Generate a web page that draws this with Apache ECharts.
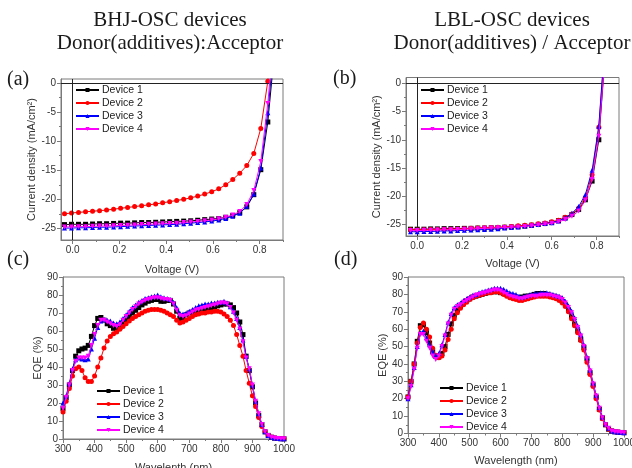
<!DOCTYPE html>
<html><head><meta charset="utf-8">
<script src="https://cdn.jsdelivr.net/npm/echarts@6/dist/echarts.min.js"></script>
<style>html,body{margin:0;padding:0;background:#fff}#c{width:632px;height:468px}</style>
</head><body><div id="c"></div>
<script>
// ---------- DATA ----------
const deviceNames = ['Device 1','Device 2','Device 3','Device 4'];

// (a) BHJ J-V
const voltageA = [-0.035,-0.005,0.025,0.055,0.085,0.115,0.145,0.175,0.205,0.235,0.265,0.295,0.325,0.355,0.385,0.415,0.445,0.475,0.505,0.535,0.565,0.595,0.625,0.655,0.685,0.715,0.745,0.775,0.805,0.835,0.865];
const jA_dev1 = [-24.35,-24.3,-24.3,-24.3,-24.25,-24.2,-24.2,-24.15,-24.1,-24.1,-24.05,-24.0,-24.0,-23.95,-23.9,-23.85,-23.8,-23.75,-23.7,-23.6,-23.5,-23.4,-23.3,-23.1,-22.8,-22.3,-21.3,-19.2,-14.9,-6.7,6];
const jA_dev2 = [-22.5,-22.35,-22.25,-22.15,-22.05,-21.95,-21.85,-21.7,-21.55,-21.4,-21.25,-21.1,-20.95,-20.8,-20.6,-20.4,-20.2,-20.0,-19.75,-19.45,-19.1,-18.7,-18.2,-17.5,-16.6,-15.5,-14.2,-12.1,-7.8,0.3,12];
const jA_dev3 = [-24.95,-24.95,-24.9,-24.9,-24.85,-24.8,-24.8,-24.75,-24.7,-24.65,-24.6,-24.55,-24.5,-24.45,-24.4,-24.35,-24.3,-24.2,-24.1,-24.0,-23.9,-23.75,-23.55,-23.3,-22.9,-22.4,-21.2,-19.1,-14.6,-5.1,8];
const jA_dev4 = [-24.75,-24.75,-24.7,-24.7,-24.65,-24.6,-24.6,-24.55,-24.5,-24.45,-24.4,-24.35,-24.3,-24.25,-24.2,-24.15,-24.1,-24.0,-23.9,-23.8,-23.7,-23.55,-23.35,-23.1,-22.7,-22.1,-20.9,-18.5,-13.5,-3.5,10];

// (b) LBL J-V
const voltageB = [-0.03,0,0.03,0.06,0.09,0.12,0.15,0.18,0.21,0.24,0.27,0.30,0.33,0.36,0.39,0.42,0.45,0.48,0.51,0.54,0.57,0.60,0.63,0.66,0.69,0.72,0.75,0.78,0.81,0.84];
const jB_dev1 = [-25.8,-25.8,-25.8,-25.75,-25.75,-25.7,-25.7,-25.7,-25.65,-25.65,-25.6,-25.6,-25.55,-25.5,-25.45,-25.4,-25.35,-25.25,-25.1,-24.95,-24.8,-24.6,-24.3,-23.8,-23.2,-22.3,-20.6,-17.3,-10.0,6];
const jB_dev2 = [-25.9,-25.9,-25.9,-25.85,-25.85,-25.8,-25.8,-25.75,-25.7,-25.65,-25.6,-25.55,-25.5,-25.45,-25.4,-25.3,-25.2,-25.1,-25.0,-24.85,-24.7,-24.5,-24.2,-23.7,-23.1,-22.1,-20.2,-16.2,-7.8,8];
const jB_dev3 = [-26.25,-26.25,-26.2,-26.2,-26.15,-26.1,-26.1,-26.05,-26.0,-25.95,-25.9,-25.85,-25.8,-25.7,-25.6,-25.5,-25.4,-25.25,-25.1,-24.95,-24.8,-24.65,-24.35,-23.8,-23.0,-21.8,-19.7,-15.4,-7.6,9];
const jB_dev4 = [-26.05,-26.05,-26.0,-26.0,-25.95,-25.9,-25.9,-25.85,-25.8,-25.75,-25.7,-25.65,-25.6,-25.55,-25.5,-25.45,-25.4,-25.3,-25.2,-25.05,-24.9,-24.75,-24.5,-24.1,-23.5,-22.6,-20.7,-17.0,-9.4,6];

// wavelengths for EQE (nm)
const wavelength = [300,310,320,330,340,350,360,370,380,390,400,410,420,430,440,450,460,470,480,490,500,510,520,530,540,550,560,570,580,590,600,610,620,630,640,650,660,670,680,690,700,710,720,730,740,750,760,770,780,790,800,810,820,830,840,850,860,870,880,890,900,910,920,930,940,950,960,970,980,990,1000];

// (c) BHJ EQE (%)
const eqeC_dev1 = [17,23,30,38,46,49,50,50.5,52,57, 63,67,67.5,66,64,63,61.5,61,62,64, 66,68,70,71.5,73,74.5,75.5,76.5,77,77.5, 77.5,76.5,76.5,77,77,75,71,67,67.5,69, 70,70.5,71,71.5,72,72,72.5,73,73.5,74, 74.5,75,75,74.5,73,70,65,58,46,38, 29,20,13,8,4,2,1,0.5,0.3,0.2, 0.1];
const eqeC_dev2 = [15,21,28,35,39,40,38,34,32,32, 35,40,45,50.5,54.5,57,58.5,59.5,61,62.5, 64,65.5,67,68,69,70,71,71.5,72,72, 72,71.5,71,70,69,68,66,64.5,65,66, 67,68,69,69.5,70,70,70.5,70.5,71,71, 70.5,69.5,68,66,63,58,52,46,38,31, 24,18,12,7,4,2,1,0.5,0.3,0.2, 0.1];
const eqeC_dev3 = [20,24,31,39,44,45,44.5,44,44.5,50, 56,62,65.5,66.5,66,65.5,64.5,64,65,67, 69,71,73,74.5,76,77,78,78.5,79,79.5, 80,79,78.5,78,77.5,76,73,70,69.5,70, 71,72,73,74,74.5,75,75,75.5,75.5,76, 76,76.5,75.5,73.5,71,67,62,55,46,39, 30,21,14,8,4,2,1,0.5,0.3,0.2, 0.1];
const eqeC_dev4 = [17,23,30,38,43,45,45,45,46,52, 58,63,66,66,65,64,63,62.5,63.5,66, 68,70,72,73.5,75,76,77,77.5,78,78.5, 78.5,78,77.5,77.5,77,75,71.5,68.5,68,68.5, 69.5,70.5,71.5,72,72.5,73,73.5,74,74.5,75, 75.5,75.5,75,73,70,66,61,54,45,39, 30,21,14,8,4,2,1,0.5,0.3,0.2, 0.1];

// (d) LBL EQE (%)
const eqeD_dev1 = [21,30,40,53,62,62.5,58,52,47,44.5, 44,46,50,57,63,68,71,73,75,76.5, 77.5,78.5,79,79.5,80,80.5,81,81.5,81.5,81.5, 81,80.5,80,79.5,79,78.5,78,78.5,79,79, 79.5,80,80.5,80.5,80.5,80,79.5,79,78.5,77.5, 76,74,71,67.5,63,59,54,49.5,43,35, 28,21,14,9,5,2.5,1.5,1,0.8,0.6, 0.5];
const eqeD_dev2 = [21,30,40,52,61,63.5,60,55.5,49,45, 43.5,44.5,48,54,60,66,69.5,72,74,75.5, 77,78,79,79.5,80,80.5,81,81,81.5,81.5, 81,80,79,78,77.5,77,76.5,76.5,77,77.5, 78,78.5,79,79,79,79,78.5,78,77.5,76.5, 75,73,70,66,62,58,53.5,48,41,34, 27,20,13.5,8.5,5,2.5,1.5,1,0.8,0.6, 0.5];
const eqeD_dev3 = [20,28,38,50,58,59,55,51,47,44.5, 46,51,57,64,69,72.5,74,75,76.5,77.5, 78.5,79.5,80,81,81.5,82,82.5,83,83.5,83.5, 83.5,83,82,81,80.5,80,79,78.5,79,79.5, 80,80.5,80.5,81,81,81,80.5,80,79.5,79, 78,76,73.5,70.5,66.5,62,57,51,44,36.5, 29,22,15,9.5,5.5,3,1.5,1,0.8,0.6, 0.5];
const eqeD_dev4 = [20,27,37,49,57,57,53,49,44.5,42.5, 44.5,50,56,63,68,71.5,73,74,75.5,76.5, 77.5,78.5,79.5,80,80.5,81,81.5,82,82.5,82.5, 82,81,80,79,78.5,78,77.5,77.5,78,78.5, 79,79,79,79.5,79.5,79.5,79.5,79,78.5,78, 77,75,72.5,69.5,65.5,61,56,50,43,36, 28.5,21.5,14.5,9,5,3,1.5,1,0.8,0.6, 0.5];

// tick values
const voltTicks = [0, 0.2, 0.4, 0.6, 0.8];
const voltMinor = [0.1, 0.3, 0.5, 0.7, 0.9];
const currTicks = [-25, -20, -15, -10, -5, 0];
const currMinor = [-22.5, -17.5, -12.5, -7.5, -2.5];

// ---------- STYLE ----------
const colors = ['#000000', '#ff0000', '#0000ff', '#ff00ff'];
const symbols = ['rect', 'circle', 'triangle', 'triangle'];
const rotates = [0, 0, 0, 180];
const SANS = 'Liberation Sans';
const frameColor = '#7a7a7a';
const labelColor = '#333';

const grids = [
  {left: 61, top: 79, width: 222, height: 161},
  {left: 406, top: 77.5, width: 213, height: 158.5},
  {left: 63, top: 277, width: 221, height: 162},
  {left: 408, top: 277, width: 216, height: 156.5}
];

const xAxes = [], yAxes = [];
function customAxis(arr, dim, g, min, max, majors, minors, fmt, name, gap) {
  arr.push({
    type: 'value', gridIndex: g, min: min, max: max, position: dim === 'x' ? 'bottom' : 'left', offset: 0,
    name: name, nameLocation: 'middle', nameGap: gap,
    nameTextStyle: {fontFamily: SANS, fontSize: 11, color: labelColor},
    splitLine: {show: false},
    axisLine: {show: true, onZero: false, lineStyle: {color: frameColor, width: 1}},
    axisTick: {show: true, length: 4, customValues: majors, lineStyle: {color: frameColor}},
    axisLabel: {customValues: majors, fontFamily: SANS, fontSize: 10, color: labelColor, margin: 5, formatter: fmt}
  });
  arr.push({
    type: 'value', gridIndex: g, min: min, max: max, position: dim === 'x' ? 'bottom' : 'left', offset: 0,
    splitLine: {show: false},
    axisLine: {show: false, onZero: false},
    axisTick: {show: true, length: 2, customValues: minors, lineStyle: {color: frameColor}},
    axisLabel: {show: false}
  });
}
function intervalAxis(arr, dim, g, min, max, interval, name, gap) {
  arr.push({
    type: 'value', gridIndex: g, min: min, max: max, interval: interval, position: dim === 'x' ? 'bottom' : 'left',
    name: name, nameLocation: 'middle', nameGap: gap,
    nameTextStyle: {fontFamily: SANS, fontSize: 11, color: labelColor},
    splitLine: {show: false},
    axisLine: {show: true, onZero: false, lineStyle: {color: frameColor, width: 1}},
    axisTick: {show: true, length: 4, lineStyle: {color: frameColor}},
    minorTick: {show: true, splitNumber: 2, length: 2, lineStyle: {color: frameColor}},
    axisLabel: {fontFamily: SANS, fontSize: 10, color: labelColor, margin: 5, formatter: v => String(v)}
  });
}
const fmtV = v => v.toFixed(1);
const fmtJ = v => String(v);
customAxis(xAxes, 'x', 0, -0.05, 0.9, voltTicks, voltMinor, fmtV, 'Voltage (V)', 24);
customAxis(yAxes, 'y', 0, -27, 0.7, currTicks, currMinor, fmtJ, 'Current density (mA/cm²)', 22);
customAxis(xAxes, 'x', 1, -0.05, 0.9, voltTicks, voltMinor, fmtV, 'Voltage (V)', 22);
customAxis(yAxes, 'y', 1, -27, 1, currTicks, currMinor, fmtJ, 'Current density (mA/cm²)', 22);
intervalAxis(xAxes, 'x', 2, 300, 1000, 100, 'Wavelenth (nm)', 23);
intervalAxis(yAxes, 'y', 2, 0, 90, 10, 'EQE (%)', 19);
intervalAxis(xAxes, 'x', 3, 300, 1000, 100, 'Wavelength (nm)', 22);
intervalAxis(yAxes, 'y', 3, 0, 90, 10, 'EQE (%)', 19);

const series = [];
function addSet(xs, ysList, xi, yi, zeroLines) {
  ysList.forEach((ys, k) => {
    const s = {
      type: 'line', name: deviceNames[k], xAxisIndex: xi, yAxisIndex: yi,
      data: xs.map((x, i) => [x, ys[i]]),
      symbol: symbols[k], symbolRotate: rotates[k], symbolSize: 5, showSymbol: true,
      lineStyle: {color: colors[k], width: 1}, itemStyle: {color: colors[k]},
      clip: true, animation: false, z: 3 + k
    };
    if (zeroLines && k === 0) {
      s.markLine = {silent: true, symbol: ['none', 'none'], label: {show: false},
        lineStyle: {color: '#222', width: 1, type: 'solid'}, animation: false,
        data: [{xAxis: 0}, {yAxis: 0}]};
    }
    series.push(s);
  });
}
addSet(voltageA, [jA_dev1, jA_dev2, jA_dev3, jA_dev4], 0, 0, true);
addSet(voltageB, [jB_dev1, jB_dev2, jB_dev3, jB_dev4], 2, 2, true);
addSet(wavelength, [eqeC_dev1, eqeC_dev2, eqeC_dev3, eqeC_dev4], 4, 4, false);
addSet(wavelength, [eqeD_dev1, eqeD_dev2, eqeD_dev3, eqeD_dev4], 5, 5, false);

function legendAt(left, top) {
  return {orient: 'vertical', left: left, top: top, itemWidth: 23, itemHeight: 5, itemGap: 1, padding: 0,
    data: deviceNames, selectedMode: false,
    textStyle: {fontFamily: SANS, fontSize: 10.5, color: '#222', lineHeight: 12, padding: [0, 0, 0, -2]}};
}

function txt(x, y, text, font, align) {
  return {type: 'text', x: x, y: y, silent: true,
    style: {text: text, font: font, fill: '#1a1a1a', textAlign: align || 'center', textVerticalAlign: 'middle'}};
}

const chart = echarts.init(document.getElementById('c'), null, {renderer: 'canvas'});
chart.setOption({
  backgroundColor: '#fff',
  animation: false,
  grid: grids.map(g => Object.assign({show: true, borderColor: frameColor, borderWidth: 1,
    backgroundColor: 'transparent', containLabel: false, outerBoundsMode: 'none'}, g)),
  xAxis: xAxes,
  yAxis: yAxes,
  legend: [legendAt(75, 84), legendAt(420, 84), legendAt(96, 385), legendAt(439, 382)],
  series: series,
  graphic: [
    txt(170, 20, 'BHJ-OSC devices', '21px "Liberation Serif"'),
    txt(170, 43, 'Donor(additives):Acceptor', '21px "Liberation Serif"'),
    txt(512, 20, 'LBL-OSC devices', '21px "Liberation Serif"'),
    txt(512, 43, 'Donor(additives) / Acceptor', '21px "Liberation Serif"'),
    txt(7, 80, '(a)', '20px "Liberation Serif"', 'left'),
    txt(333, 79, '(b)', '20px "Liberation Serif"', 'left'),
    txt(7, 260, '(c)', '20px "Liberation Serif"', 'left'),
    txt(334, 260, '(d)', '20px "Liberation Serif"', 'left')
  ]
});
</script>
</body></html>
